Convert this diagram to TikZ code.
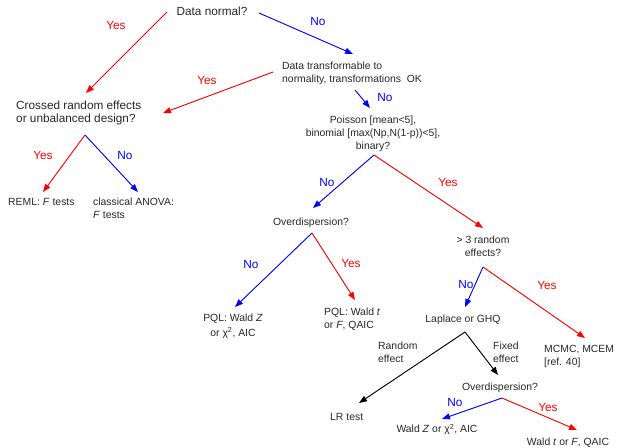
\documentclass[tikz,border=0pt]{standalone}
\usepackage{fontspec}
\setmainfont{Liberation Sans}
\usetikzlibrary{arrows.meta}
\definecolor{yesred}{RGB}{255,0,0}
\definecolor{noblue}{RGB}{0,0,255}
\tikzset{
  big/.style={font=\fontsize{11.8}{13.3}\selectfont, inner sep=0pt, text=black!85},
  small/.style={font=\fontsize{10.4}{12.8}\selectfont, inner sep=0pt, text=black!85},
  yeslab/.style={font=\fontsize{11.8}{13.3}\selectfont, inner sep=0pt, text=yesred, anchor=base},
  nolab/.style={font=\fontsize{11.8}{13.3}\selectfont, inner sep=0pt, text=noblue, anchor=base},
  conn/.style={line width=0.9pt, -{Triangle[length=8pt,width=6pt]}},
  yesarrow/.style={conn, draw=yesred, fill=yesred},
  noarrow/.style={conn, draw=noblue, fill=noblue},
  blkarrow/.style={conn, draw=black, fill=black},
}
\begin{document}
\begin{tikzpicture}[x=1pt,y=-1pt]
\useasboundingbox (0,0) rectangle (617,447);
% nodes
\node[big, anchor=center] (n0) at (212,11) {Data normal?};
\node[small, anchor=north west, align=left] (n1) at (282,62) {Data transformable to\\normality, transformations\ \ OK};
\node[big, anchor=north west, align=left] (n2) at (16,100.6) {Crossed random effects\\or unbalanced design?};
\node[small, anchor=north, align=center] (n3) at (373,116) {Poisson [mean<5],\\binomial [max(Np,N(1-p))<5],\\binary?};
\node[small, anchor=west] (reml) at (8,202) {REML: \textit{F} tests};
\node[small, anchor=north west, align=left] (anova) at (93,198) {classical ANOVA:\\\textit{F} tests};
\node[small, anchor=base] (od1) at (311,225.8) {Overdispersion?};
\node[small, anchor=north, align=center] (gt3) at (483,236) {> 3 random\\effects?};
\node[small, anchor=north, align=center] (pqlz) at (233,314) {PQL: Wald \textit{Z}\\[1.5pt]or χ\textsuperscript{2}, AIC};
\node[small, anchor=north west, align=left] (pqlt) at (324,308) {PQL: Wald \textit{t}\\or \textit{F}, QAIC};
\node[small, anchor=base] (lap) at (463,322.75) {Laplace or GHQ};
\node[small, anchor=north west, align=left] (mcmc) at (544,345) {MCMC, MCEM\\{[ref. 40]}};
\node[small, anchor=north west, align=left] (rand) at (378,342) {Random\\effect};
\node[small, anchor=north west, align=left] (fixed) at (493,342) {Fixed\\effect};
\node[small, anchor=base west] (lr) at (330,420.75) {LR test};
\node[small, anchor=base] (od2) at (500,390.75) {Overdispersion?};
\node[small, anchor=base] (waldz) at (437,432.75) {Wald \textit{Z} or χ\textsuperscript{2}, AIC};
\node[small, anchor=base] (waldt) at (568,445.75) {Wald \textit{t} or \textit{F}, QAIC};
% labels
\node[yeslab] (l1) at (116,29.25) {Yes};
\node[nolab] (l2) at (318,25.25) {No};
\node[yeslab] (l3) at (207,84.25) {Yes};
\node[nolab] (l4) at (385,101.25) {No};
\node[yeslab] (l5) at (43,159.25) {Yes};
\node[nolab] (l6) at (125,159.25) {No};
\node[nolab] (l7) at (327,186.25) {No};
\node[yeslab] (l8) at (448,186.25) {Yes};
\node[nolab] (l9) at (251,268.25) {No};
\node[yeslab] (l10) at (351,267.25) {Yes};
\node[nolab] (l11) at (466,288.25) {No};
\node[yeslab] (l12) at (547,289.25) {Yes};
\node[nolab] (l13) at (455,406.25) {No};
\node[yeslab] (l14) at (548,411.25) {Yes};
% connector end points
\coordinate (s0y) at (167,12);   \coordinate (e0y) at (86,93);
\coordinate (s0n) at (259,13);   \coordinate (e0n) at (353,54);
\coordinate (s1y) at (273,72);   \coordinate (e1y) at (163,113);
\coordinate (s1n) at (355,90);   \coordinate (e1n) at (370,108);
\coordinate (a2) at (85,135);
\coordinate (e2y) at (43,192);   \coordinate (e2n) at (138,192);
\coordinate (a3) at (374,155);
\coordinate (e3n) at (313,208);  \coordinate (e3y) at (483,228);
\coordinate (a4) at (312,233);
\coordinate (e4n) at (235,307);  \coordinate (e4y) at (355,300);
\coordinate (a5) at (483,267);
\coordinate (e5n) at (465,307);  \coordinate (e5y) at (585,338);
\coordinate (a6) at (465,332);
\coordinate (e6r) at (359,403);  \coordinate (e6f) at (498,375);
\coordinate (a7) at (502,398);
\coordinate (e7n) at (442,419);  \coordinate (e7y) at (577,430);
% connectors
\draw[yesarrow] (s0y) -- (e0y);
\draw[noarrow] (s0n) -- (e0n);
\draw[yesarrow] (s1y) -- (e1y);
\draw[noarrow] (s1n) -- (e1n);
\draw[yesarrow] (a2) -- (e2y);
\draw[noarrow] (a2) -- (e2n);
\draw[noarrow] (a3) -- (e3n);
\draw[yesarrow] (a3) -- (e3y);
\draw[noarrow] (a4) -- (e4n);
\draw[yesarrow] (a4) -- (e4y);
\draw[noarrow] (a5) -- (e5n);
\draw[yesarrow] (a5) -- (e5y);
\draw[blkarrow] (a6) -- (e6r);
\draw[blkarrow] (a6) -- (e6f);
\draw[noarrow] (a7) -- (e7n);
\draw[yesarrow] (a7) -- (e7y);
\end{tikzpicture}
\end{document}
